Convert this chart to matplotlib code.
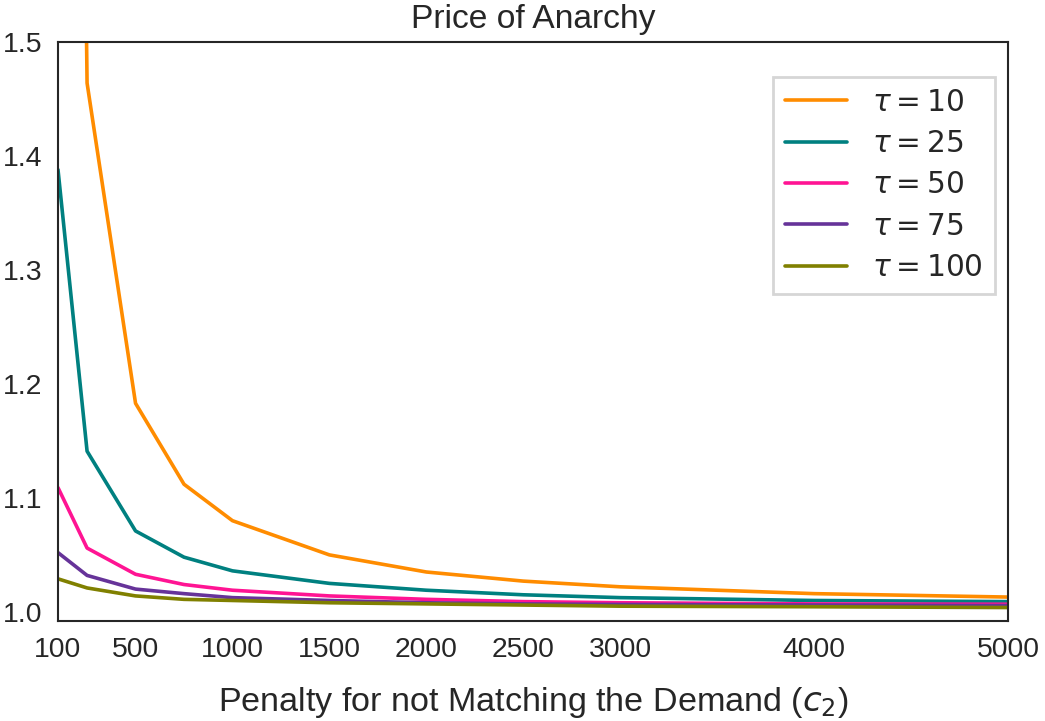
import matplotlib
matplotlib.use('Agg')
import matplotlib.pyplot as plt
import seaborn as sns

sns.set_style('white')
plt.rcParams['font.family'] = ['Liberation Sans', 'DejaVu Sans']

# penalty values c2
penalty = [100, 250, 500, 750, 1000, 1500, 2000, 2500, 3000, 4000, 5000]
xticks = [100, 500, 1000, 1500, 2000, 2500, 3000, 4000, 5000]

taus = [10, 25, 50, 75, 100]
poa_10 = [3.5, 1.464, 1.183, 1.112, 1.080, 1.050, 1.035, 1.027, 1.022, 1.016, 1.013]
poa_25 = [1.388, 1.141, 1.071, 1.048, 1.036, 1.025, 1.019, 1.015, 1.0125, 1.010, 1.009]
poa_50 = [1.109, 1.056, 1.033, 1.024, 1.019, 1.014, 1.011, 1.009, 1.008, 1.007, 1.0067]
poa_75 = [1.052, 1.032, 1.020, 1.016, 1.0125, 1.010, 1.008, 1.007, 1.0065, 1.006, 1.0055]
poa_100 = [1.029, 1.021, 1.014, 1.011, 1.010, 1.008, 1.007, 1.006, 1.005, 1.0045, 1.0038]
colors = ['#FF8C00', '#008080', '#FF1493', '#663399', '#808000']

fig = plt.figure(figsize=(10.45, 7.21), dpi=100)
ax = fig.add_axes([0.0555, 0.1387, 0.909, 0.803])

for tau, vals, c in zip(taus, [poa_10, poa_25, poa_50, poa_75, poa_100], colors):
    ax.plot(penalty, vals, color=c, linewidth=2.6, label=r'$\tau = %d$' % tau)

ax.set_xlim(100, 5000)
ax.set_ylim(0.992, 1.5)
ax.set_xticks(xticks)
ax.set_yticks([1.0, 1.1, 1.2, 1.3, 1.4, 1.5])
ax.tick_params(axis='both', labelsize=20.4, colors='#262626', pad=8)
for s in ax.spines.values():
    s.set_color('#262626')
    s.set_linewidth(1.5)

ax.set_title('Price of Anarchy', fontsize=24.2, color='#262626', pad=10)
ax.set_xlabel(r'Penalty for not Matching the Demand ($c_2$)', fontsize=24.6, color='#262626', labelpad=16)

leg = ax.legend(loc='upper right', fontsize=21.3, frameon=True, fancybox=False,
                borderpad=0.4, labelspacing=0.45, handlelength=2.1, handletextpad=0.85,
                borderaxespad=0, bbox_to_anchor=(0.9863, 0.9396))
leg.get_frame().set_edgecolor('#cccccc')
leg.get_frame().set_linewidth(2)
for t in leg.get_texts():
    t.set_color('#262626')

fig.savefig('out.png', dpi=100)
